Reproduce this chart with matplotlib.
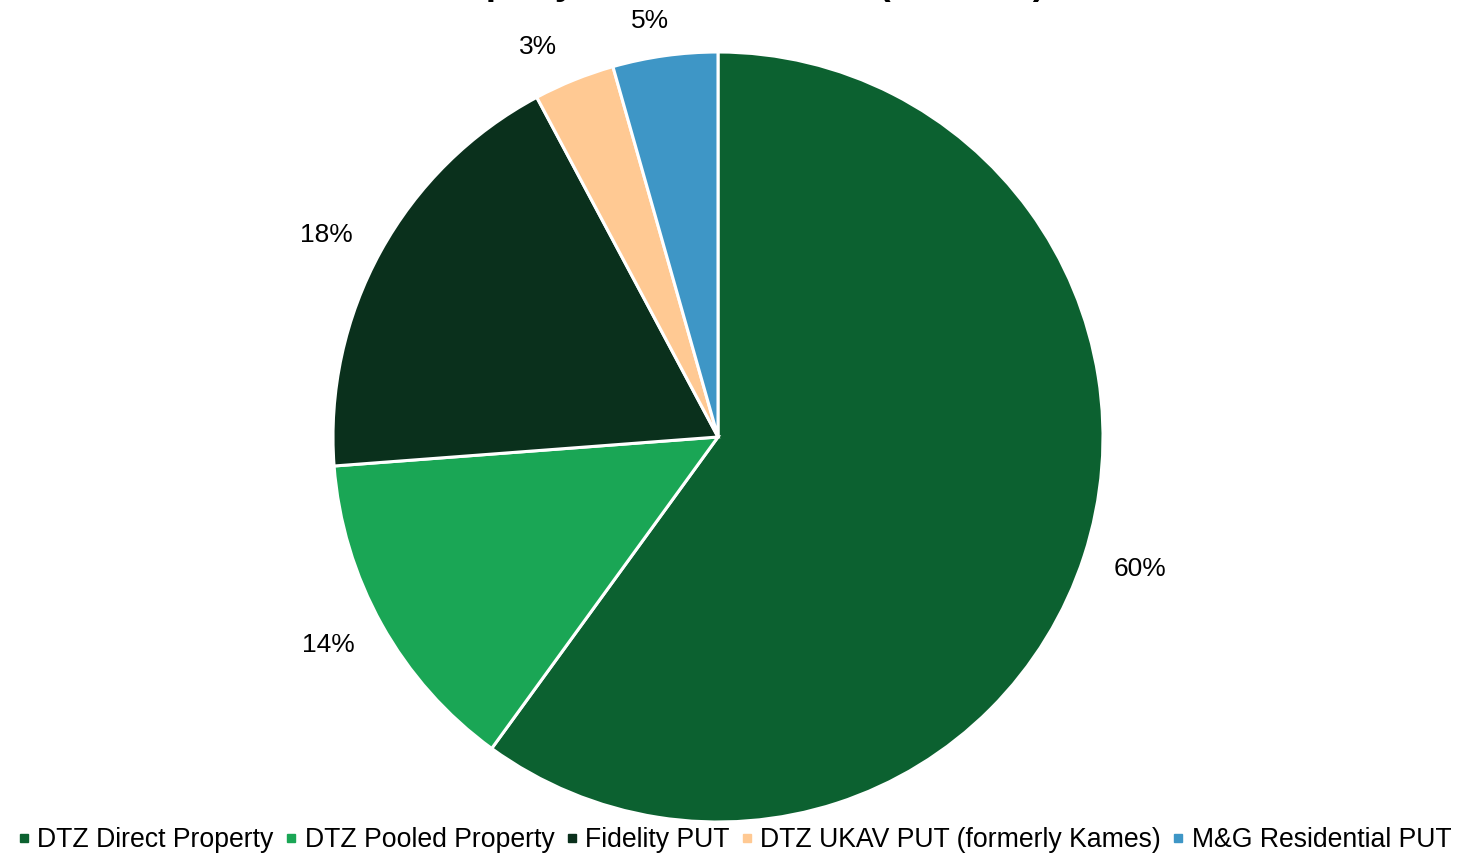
import matplotlib
matplotlib.use("Agg")
import matplotlib.pyplot as plt
from matplotlib.lines import Line2D
import numpy as np

plt.rcParams['font.family'] = ['Liberation Sans', 'DejaVu Sans']

categories = ["DTZ Direct Property", "DTZ Pooled Property", "Fidelity PUT",
              "DTZ UKAV PUT (formerly Kames)", "M&G Residential PUT"]
values = [60.0, 13.8, 18.4, 3.4, 4.4]
labels = ["60%", "14%", "18%", "3%", "5%"]
colors = ["#0C6130", "#1AA655", "#0A301C", "#FFC993", "#3E96C6"]
title = "Property Asset Allocation (31.03.21)"

# label placement style: radial gap factor and small horizontal nudges (radius units)
label_k = 1.08
label_nudge = [0.003, -0.008, -0.01, 0.005, 0.005]

fig = plt.figure(figsize=(14.58, 8.55), dpi=100)
ax = fig.add_axes([333/1458, 33/855, 770/1458, 770/855])
wedges, texts = ax.pie(values, colors=colors, labels=labels, startangle=90,
                       counterclock=False, labeldistance=1.15,
                       wedgeprops=dict(edgecolor="white", linewidth=2.2),
                       textprops=dict(fontsize=19, color="black"))
ax.set_xlim(-1, 1)
ax.set_ylim(-1, 1)
ax.set_aspect("equal")
ax.axis("off")

fig.canvas.draw()
r_px = 385.0
base_nudge = [0.0, 0.0, 0.0, -0.05, -0.025]
for w, t, nd, bn in zip(wedges, texts, label_nudge, base_nudge):
    ang = np.deg2rad((w.theta1 + w.theta2) / 2)
    t.set_ha("center")
    t.set_va("center")
    t.set_clip_on(False)
    bb = t.get_window_extent()
    hw = bb.width / 2 / r_px
    hh = bb.height / 2 / r_px * 0.55
    c, s = np.cos(ang), np.sin(ang)
    t.set_position((label_k * c + c * hw + nd + bn, label_k * s + s * hh - 0.005))

fig.text(425/1458, 1.0 + 6/855, title, ha="left", va="baseline",
         fontsize=26.3, fontweight="bold")

handles = [Line2D([], [], marker="s", ls="", color=c, markersize=6) for c in colors]
fig.legend(handles, categories, loc="center", bbox_to_anchor=(735/1458, 1 - 840/855),
           ncol=5, frameon=False, fontsize=19.2, handlelength=0.4,
           handletextpad=0.3, columnspacing=0.45, borderaxespad=0)

fig.savefig("out.png", dpi=100)
